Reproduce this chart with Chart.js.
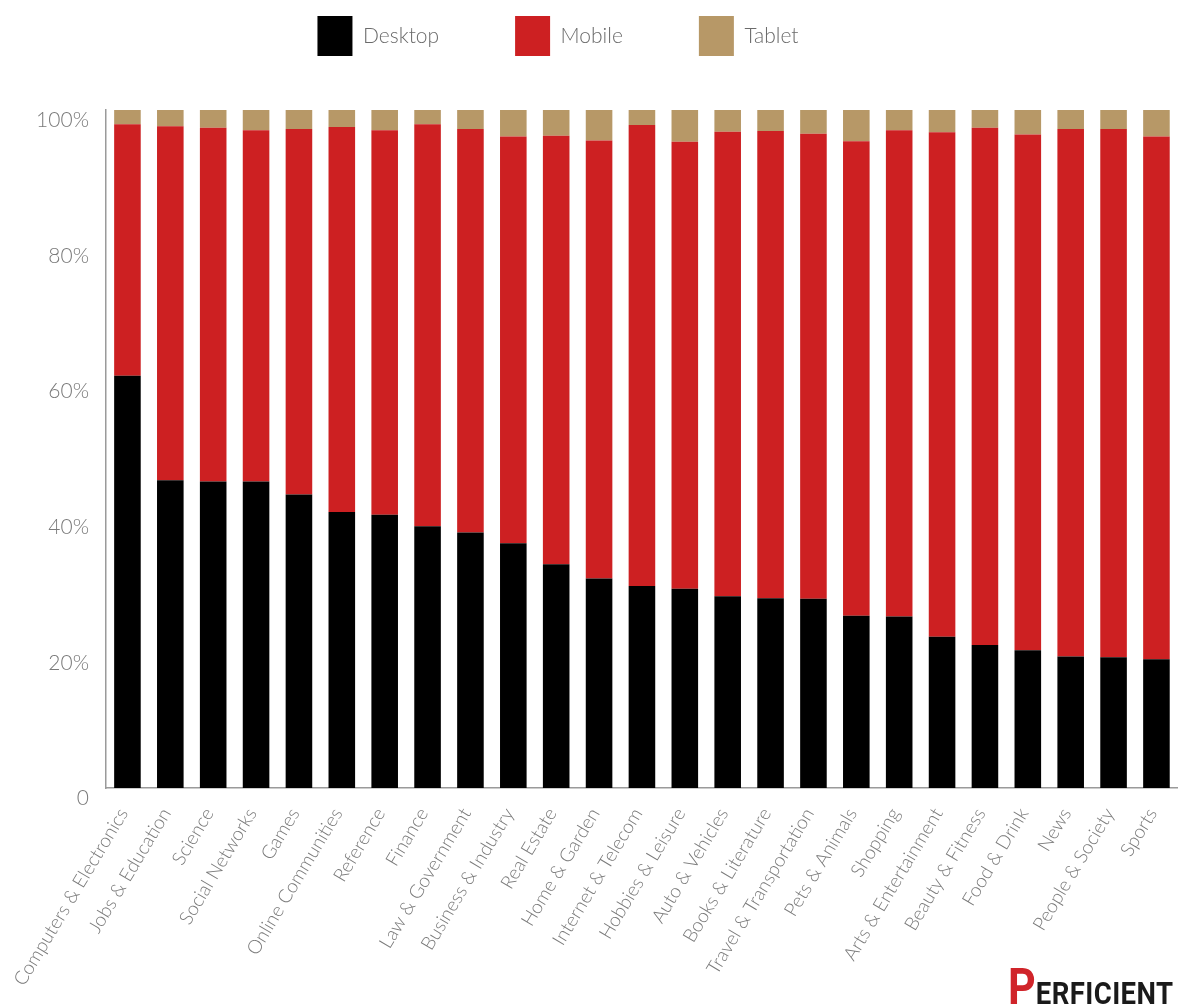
<!DOCTYPE html>
<html>
<head>
    <meta charset="UTF-8">
    <title>Desktop vs Mobile vs Tablet by Category</title>
    <script src="https://cdn.jsdelivr.net/npm/chart.js"></script>
    <style>
        body {
            margin: 0;
            background: #fff;
            overflow: hidden;
            font-family: Lato, "Open Sans", sans-serif;
        }

        .wrap {
            position: relative;
            width: 1192px;
            height: 1008px;
        }

        .logo {
            position: absolute;
            left: 1008px;
            bottom: -4px;
            display: flex;
            align-items: baseline;
            line-height: 1;
            font-family: Roboto, "DejaVu Sans", sans-serif;
            font-weight: bold;
            color: #1a1a1a;
            white-space: nowrap;
            transform: scaleX(0.86);
            transform-origin: left bottom;
        }

        .logo .p {
            color: #d0242a;
            font-size: 50px;
        }

        .logo .rest {
            font-size: 32px;
            letter-spacing: 0.5px;
        }
    </style>
</head>
<body>
    <div class="wrap">
        <canvas id="deviceChart"></canvas>
        <div class="logo"><span class="p">P</span><span class="rest">ERFICIENT</span></div>
    </div>

    <script>
        // categories, ordered by desktop share
        var categories = [
            'Computers & Electronics', 'Jobs & Education', 'Science', 'Social Networks', 'Games',
            'Online Communities', 'Reference', 'Finance', 'Law & Government', 'Business & Industry',
            'Real Estate', 'Home & Garden', 'Internet & Telecom', 'Hobbies & Leisure', 'Auto & Vehicles',
            'Books & Literature', 'Travel & Transportation', 'Pets & Animals', 'Shopping',
            'Arts & Entertainment', 'Beauty & Fitness', 'Food & Drink', 'News', 'People & Society', 'Sports'
        ];

        // share of traffic, percent
        var desktop = [60.8, 45.4, 45.2, 45.2, 43.3, 40.7, 40.3, 38.6, 37.7, 36.1, 33.0, 30.9, 29.8,
            29.4, 28.3, 28.0, 27.9, 25.4, 25.3, 22.3, 21.1, 20.3, 19.4, 19.3, 19.0];
        var mobile = [37.1, 52.2, 52.2, 51.8, 53.9, 56.8, 56.7, 59.3, 59.5, 60.0, 63.2, 64.6, 68.0,
            65.9, 68.5, 68.9, 68.6, 70.0, 71.7, 74.4, 76.3, 76.1, 77.8, 77.9, 77.1];
        var tablet = [2.1, 2.4, 2.6, 3.0, 2.8, 2.5, 3.0, 2.1, 2.8, 3.9, 3.8, 4.5, 2.2,
            4.7, 3.2, 3.1, 3.5, 4.6, 3.0, 3.3, 2.6, 3.6, 2.8, 2.8, 3.9];

        var yTickLabels = ['0', '20%', '40%', '60%', '80%', '100%'];

        // legend takes 110px above the plot; items sit near the top, a bit left of centre
        var legendSpacing = {
            id: 'legendSpacing',
            beforeInit: function (chart) {
                var fit = chart.legend.fit;
                chart.legend.fit = function () {
                    fit.bind(chart.legend)();
                    this.height = 110;
                };
            },
            afterLayout: function (chart) {
                chart.legend.top -= 60;
                chart.legend.right -= 108;
            }
        };

        var ctx = document.getElementById('deviceChart').getContext('2d');
        var chart = new Chart(ctx, {
            type: 'bar',
            data: {
                labels: categories,
                datasets: [{
                    label: 'Desktop',
                    data: desktop,
                    backgroundColor: '#000000'
                }, {
                    label: 'Mobile',
                    data: mobile,
                    backgroundColor: '#cd2022'
                }, {
                    label: 'Tablet',
                    data: tablet,
                    backgroundColor: '#b79867'
                }]
            },
            options: {
                responsive: true,
                maintainAspectRatio: false,
                animation: false,
                barPercentage: 0.62,
                categoryPercentage: 1,
                layout: {
                    padding: { left: 33, right: 1, top: 0, bottom: 0 }
                },
                plugins: {
                    legend: {
                        position: 'top',
                        labels: {
                            boxWidth: 35,
                            boxHeight: 40,
                            padding: 76,
                            color: '#6b6b6b',
                            font: { family: 'Lato', size: 21, weight: '300' }
                        }
                    },
                    tooltip: { enabled: false }
                },
                scales: {
                    x: {
                        stacked: true,
                        grid: { display: false, drawTicks: false },
                        border: { display: true, color: '#9a9a9a', width: 1.5 },
                        ticks: {
                            autoSkip: false,
                            minRotation: 59,
                            maxRotation: 59,
                            padding: 16,
                            labelOffset: -4,
                            color: '#7a7a7a',
                            font: { family: 'Lato', size: 19, weight: '300' }
                        },
                        afterFit: function (scale) {
                            scale.height = 220;
                        }
                    },
                    y: {
                        stacked: true,
                        min: 0,
                        max: 100,
                        grid: { display: false, drawTicks: false },
                        border: { display: true, color: '#9a9a9a', width: 1.5 },
                        ticks: {
                            stepSize: 20,
                            align: 'start',
                            padding: 17,
                            color: '#7a7a7a',
                            font: { family: 'Lato', size: 21, weight: '300' },
                            callback: function (value, index) {
                                return yTickLabels[index];
                            }
                        },
                        afterFit: function (scale) {
                            scale.width = 73;
                        }
                    }
                }
            },
            plugins: [legendSpacing]
        });
    </script>
</body>
</html>
